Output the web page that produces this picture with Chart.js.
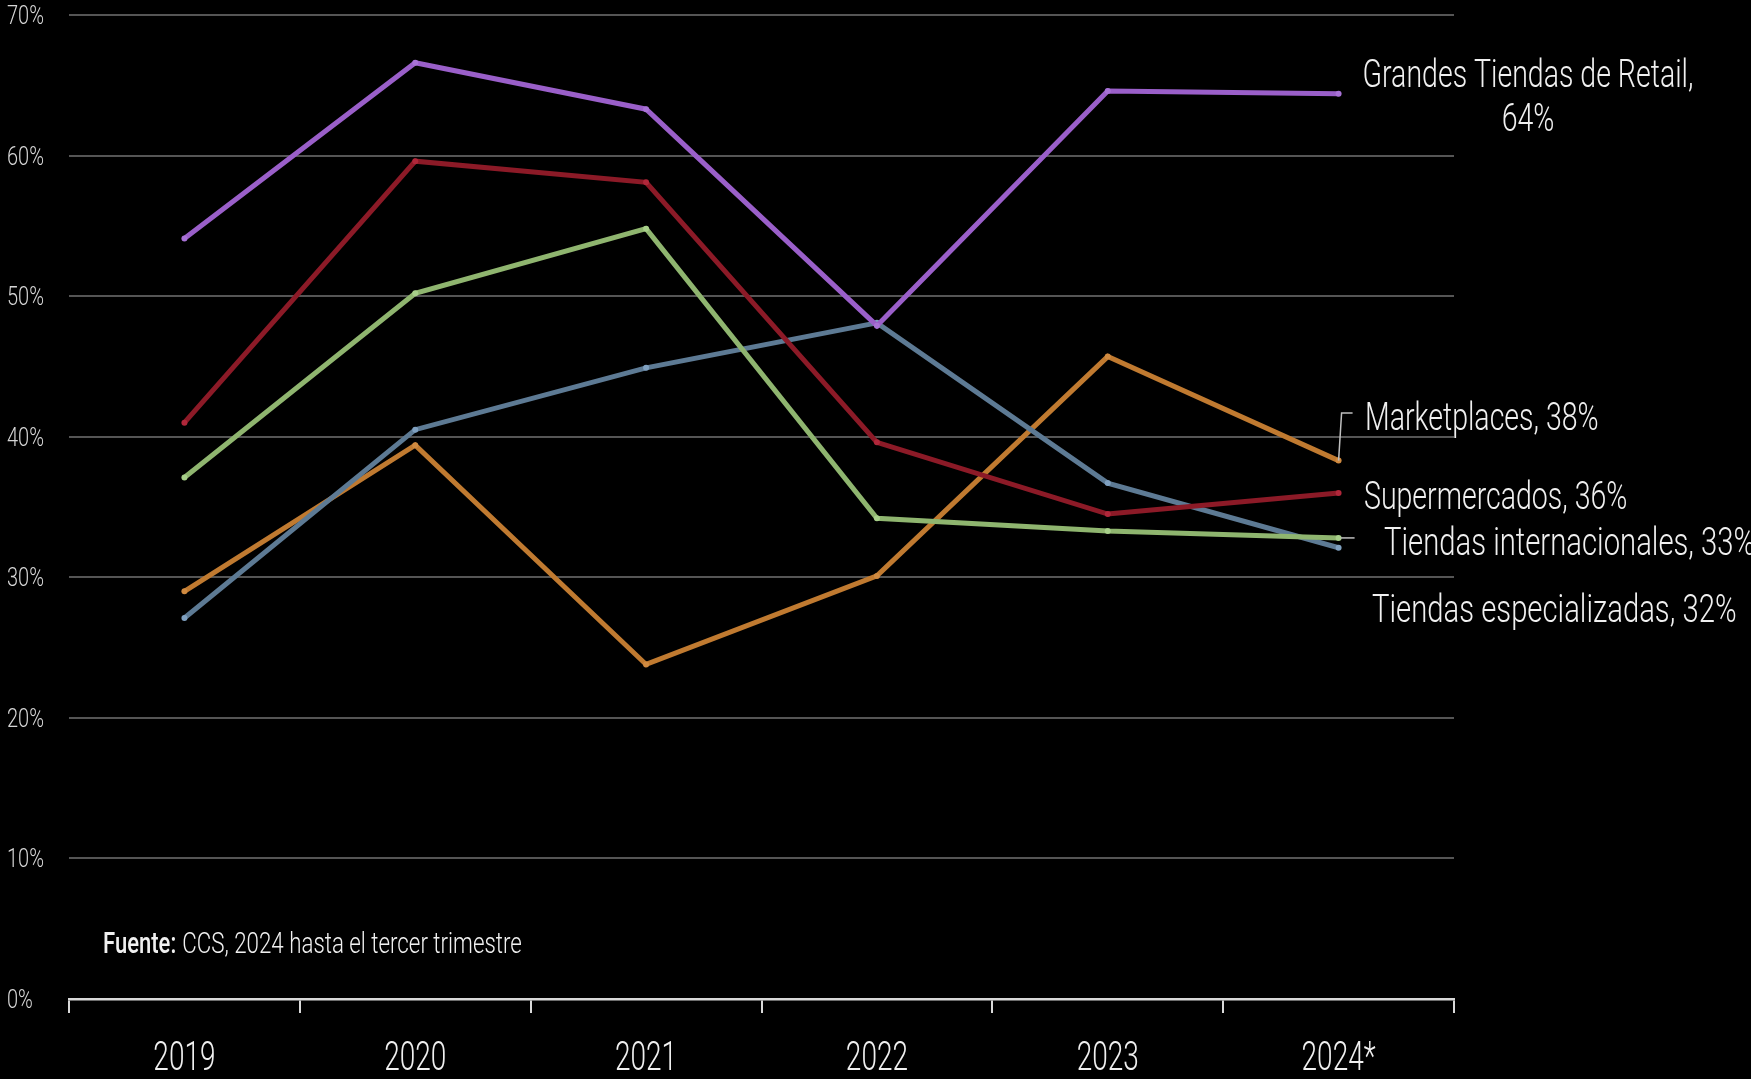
<!DOCTYPE html>
<html lang="es">
<head>
    <meta charset="UTF-8">
    <title>Canales de venta</title>
    <script src="https://cdn.jsdelivr.net/npm/chart.js"></script>
    <style>
        html, body { margin: 0; padding: 0; background: #000; }
        #wrap { width: 1751px; height: 1079px; }
    </style>
</head>
<body>
<div id="wrap"><canvas id="chart" width="1751" height="1079"></canvas></div>

<script>
    // Data
    const years = ['2019', '2020', '2021', '2022', '2023', '2024*'];
    const grandesTiendas = [54.1, 66.6, 63.3, 47.9, 64.6, 64.4];
    const supermercados = [41.0, 59.6, 58.1, 39.6, 34.5, 36.0];
    const tiendasInternacionales = [37.1, 50.2, 54.8, 34.2, 33.3, 32.8];
    const tiendasEspecializadas = [27.1, 40.5, 44.9, 48.1, 36.7, 32.1];
    const marketplaces = [29.0, 39.4, 23.8, 30.1, 45.7, 38.3];
    const yTicks = [0, 10, 20, 30, 40, 50, 60, 70];

    const FONT = 'Roboto, "Open Sans", sans-serif';
    const TEXT = '#f0f0f0';

    // condensed text: the original uses a narrow typeface, so squeeze horizontally
    function condensed(ctx, str, x, y, size, opts) {
        opts = opts || {};
        const sx = opts.sx || 0.75;
        ctx.save();
        ctx.translate(x, y);
        ctx.scale(sx, 1);
        ctx.font = (opts.weight || '300') + ' ' + size + 'px ' + FONT;
        ctx.fillStyle = opts.color || TEXT;
        ctx.textAlign = opts.align || 'left';
        ctx.textBaseline = 'alphabetic';
        ctx.fillText(str, 0, 0);
        const w = ctx.measureText(str).width * sx;
        ctx.restore();
        return w;
    }

    function series(label, data, color, pointColor) {
        return {
            label: label,
            data: data,
            borderColor: color,
            backgroundColor: color,
            pointBackgroundColor: pointColor,
            pointBorderWidth: 0,
            pointRadius: 3,
            borderWidth: 5,
            tension: 0
        };
    }

    const annotations = {
        id: 'annotations',
        afterDraw(chart) {
            const ctx = chart.ctx;
            const x = chart.scales.x, y = chart.scales.y;

            // axis tick labels
            yTicks.forEach(v => {
                condensed(ctx, v + '%', 7, y.getPixelForValue(v) + 9, 25, { color: '#d6d6d6', sx: 0.8 });
            });
            years.forEach((yr, i) => {
                condensed(ctx, yr, x.getPixelForValue(i), 1070, 40, { align: 'center', sx: 0.7 });
            });

            // series labels
            condensed(ctx, 'Grandes Tiendas de Retail,', 1528, 87, 38, { align: 'center' });
            condensed(ctx, '64%', 1528, 131, 38, { align: 'center' });
            condensed(ctx, 'Marketplaces, 38%', 1365, 430, 38);
            condensed(ctx, 'Supermercados, 36%', 1364, 509, 38);
            condensed(ctx, 'Tiendas internacionales, 33%', 1384, 555, 38, { sx: 0.77 });
            condensed(ctx, 'Tiendas especializadas, 32%', 1372, 622, 38, { sx: 0.77 });

            // leader lines
            ctx.save();
            ctx.strokeStyle = '#bfbfbf';
            ctx.lineWidth = 1.5;
            const mx = x.getPixelForValue(5), my = y.getPixelForValue(marketplaces[5]);
            ctx.beginPath();
            ctx.moveTo(mx, my);
            ctx.lineTo(mx + 3, 413);
            ctx.lineTo(mx + 14, 413);
            ctx.stroke();
            const ty = y.getPixelForValue(tiendasInternacionales[5]);
            ctx.beginPath();
            ctx.moveTo(mx + 2, ty);
            ctx.lineTo(mx + 16, ty);
            ctx.stroke();
            ctx.restore();

            // source
            const w = condensed(ctx, 'Fuente:', 103, 953, 29, { weight: '500', sx: 0.76 });
            condensed(ctx, 'CCS, 2024 hasta el tercer trimestre', 103 + w + 6, 953, 29, { sx: 0.77 });
        }
    };

    new Chart(document.getElementById('chart').getContext('2d'), {
        type: 'line',
        data: {
            labels: years,
            datasets: [
                series('Grandes Tiendas de Retail', grandesTiendas, '#9a5fc9', '#a872d6'),
                series('Supermercados', supermercados, '#8c1a27', '#b0273a'),
                series('Tiendas internacionales', tiendasInternacionales, '#8fb56f', '#a8d08a'),
                series('Tiendas especializadas', tiendasEspecializadas, '#5d7a94', '#7fa0c0'),
                series('Marketplaces', marketplaces, '#c07a30', '#d08a40')
            ]
        },
        options: {
            responsive: false,
            animation: false,
            layout: { padding: { top: 15, right: 297, bottom: 0, left: 0 } },
            plugins: {
                legend: { display: false },
                tooltip: { enabled: false }
            },
            scales: {
                x: {
                    offset: true,
                    afterFit(scale) { scale.height = 80; },
                    grid: {
                        offset: true,
                        drawOnChartArea: false,
                        drawTicks: true,
                        tickLength: 14,
                        color: '#d9d9d9',
                        lineWidth: 2
                    },
                    border: { display: true, color: '#d9d9d9', width: 2.5 },
                    ticks: { color: 'rgba(0,0,0,0)', font: { size: 12 } }
                },
                y: {
                    min: 0,
                    max: 70,
                    afterBuildTicks(scale) {
                        scale.ticks = yTicks.map(v => ({ value: v }));
                    },
                    afterFit(scale) { scale.width = 69; },
                    grid: { color: '#555555', lineWidth: 2, drawTicks: false },
                    border: { display: false },
                    ticks: { color: 'rgba(0,0,0,0)', font: { size: 12 } }
                }
            }
        },
        plugins: [annotations]
    });
</script>
</body>
</html>
